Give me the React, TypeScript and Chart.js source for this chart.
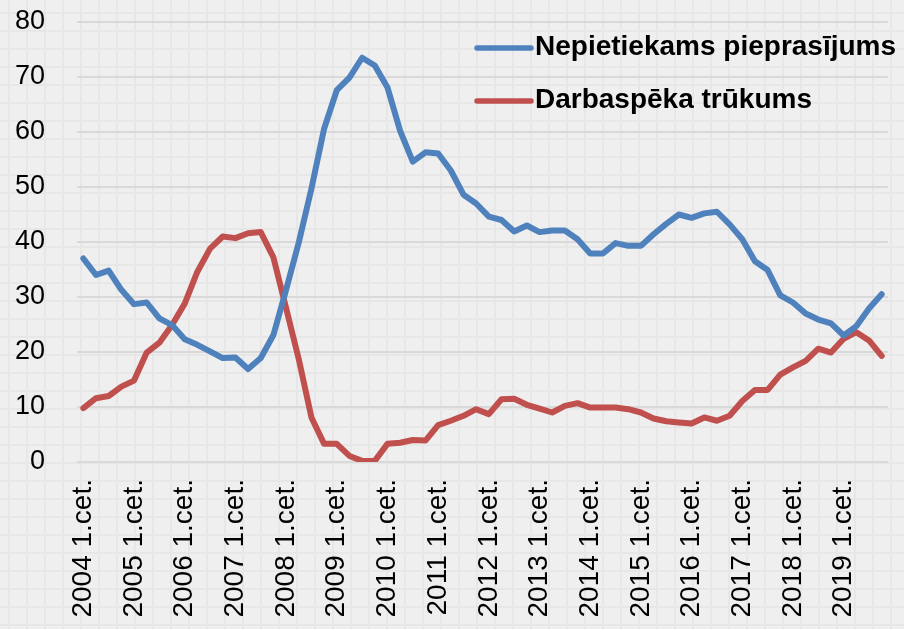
import { useEffect, useRef } from 'react';
import { Chart, registerables } from 'chart.js';

Chart.register(...registerables);

const YEARS = [2004, 2005, 2006, 2007, 2008, 2009, 2010, 2011, 2012, 2013, 2014, 2015, 2016, 2017, 2018, 2019];
const QUARTERS = ['1.cet.', '2.cet.', '3.cet.', '4.cet.'];
const CATEGORIES = YEARS.flatMap((y) => QUARTERS.map((q) => `${y} ${q}`));

const SERIES_NAMES = ['Nepietiekams pieprasījums', 'Darbaspēka trūkums'];

const INSUFFICIENT_DEMAND = [
  37.0, 34.0, 34.8, 31.3, 28.7, 29.0, 26.1, 24.9,
  22.3, 21.3, 20.1, 18.9, 19.0, 16.9, 18.9, 23.1,
  31.3, 39.9, 49.7, 60.6, 67.6, 69.9, 73.5, 72.1,
  68.1, 60.2, 54.6, 56.3, 56.1, 53.0, 48.6, 47.0,
  44.6, 44.0, 41.9, 43.0, 41.8, 42.1, 42.1, 40.5,
  37.9, 37.9, 39.8, 39.3, 39.3, 41.4, 43.3, 45.0,
  44.4, 45.2, 45.5, 43.2, 40.5, 36.5, 34.9, 30.3,
  29.0, 27.0, 25.9, 25.2, 23.0, 24.7, 27.9, 30.5,
];

const LABOUR_SHORTAGE = [
  9.8, 11.6, 12.0, 13.7, 14.8, 19.9, 21.7, 24.9,
  28.8, 34.6, 38.8, 41.0, 40.7, 41.6, 41.8, 37.2,
  28.0, 18.7, 8.1, 3.3, 3.3, 1.1, 0.2, 0.2,
  3.3, 3.5, 4.0, 3.9, 6.7, 7.5, 8.4, 9.6,
  8.7, 11.4, 11.5, 10.4, 9.7, 9.0, 10.2, 10.7,
  9.9, 9.9, 9.9, 9.6, 9.0, 7.9, 7.4, 7.2,
  7.0, 8.1, 7.5, 8.4, 11.1, 13.1, 13.1, 15.9,
  17.2, 18.4, 20.6, 19.9, 22.4, 23.6, 22.1, 19.3,
];

const Y_MIN = 0;
const Y_MAX = 80;
const Y_STEP = 10;

const COLORS = ['#4F81BD', '#C0504D'];
const FONT = '"Liberation Sans", Arial, sans-serif';

const insideLegend = {
  id: 'insideLegend',
  afterDatasetsDraw(chart: any, _args: any, opts: any) {
    const ctx = chart.ctx;
    ctx.save();
    chart.data.datasets.forEach((ds: any, i: number) => {
      const y = opts.y + i * opts.rowGap;
      ctx.strokeStyle = ds.borderColor;
      ctx.lineWidth = 5.5;
      ctx.lineCap = 'round';
      ctx.beginPath();
      ctx.moveTo(opts.x, y);
      ctx.lineTo(opts.x + opts.lineLen, y);
      ctx.stroke();
      ctx.fillStyle = '#000';
      ctx.font = `bold 28px ${FONT}`;
      ctx.textBaseline = 'middle';
      ctx.textAlign = 'left';
      ctx.fillText(ds.label, opts.x + opts.lineLen + 4, y - 1);
    });
    ctx.restore();
  },
};

export default function App() {
  const canvasRef = useRef<HTMLCanvasElement | null>(null);

  useEffect(() => {
    document.body.style.margin = '0';
    const canvas = canvasRef.current;
    if (!canvas) return;
    const chart = new Chart(canvas, {
      type: 'line',
      data: {
        labels: CATEGORIES,
        datasets: [
          {
            label: SERIES_NAMES[0],
            data: INSUFFICIENT_DEMAND,
            borderColor: COLORS[0],
            backgroundColor: COLORS[0],
            borderWidth: 6,
            pointRadius: 0,
            tension: 0,
            borderJoinStyle: 'round',
            borderCapStyle: 'round',
          },
          {
            label: SERIES_NAMES[1],
            data: LABOUR_SHORTAGE,
            borderColor: COLORS[1],
            backgroundColor: COLORS[1],
            borderWidth: 6,
            pointRadius: 0,
            tension: 0,
            borderJoinStyle: 'round',
            borderCapStyle: 'round',
          },
        ],
      },
      options: {
        animation: false,
        responsive: false,
        devicePixelRatio: 1,
        layout: { padding: { top: 22, right: 16, left: 0, bottom: 0 } },
        plugins: {
          legend: { display: false },
          tooltip: { enabled: false },
          insideLegend: { x: 477, y: 48, rowGap: 53, lineLen: 54 },
        } as any,
        scales: {
          x: {
            type: 'category',
            offset: true,
            grid: { display: false, drawTicks: false },
            border: { display: false },
            ticks: {
              autoSkip: false,
              minRotation: 90,
              maxRotation: 90,
              padding: 17,
              color: '#000',
              font: { family: FONT, size: 28 },
              callback: (_v: any, index: number) => (index % 4 === 0 ? CATEGORIES[index] : null),
            },
            afterFit: (scale: any) => {
              scale.height = 167;
              scale.paddingLeft = 0;
              scale.paddingRight = 0;
            },
          },
          y: {
            min: Y_MIN,
            max: Y_MAX,
            grid: { color: '#d9d9d9', lineWidth: 2, drawTicks: false },
            border: { display: false },
            ticks: {
              stepSize: Y_STEP,
              padding: 32,
              color: '#000',
              font: { family: FONT, size: 27 },
            },
            afterFit: (scale: any) => {
              scale.width = 77;
              scale.paddingTop = 0;
              scale.paddingBottom = 0;
            },
          },
        },
      },
      plugins: [insideLegend],
    });
    return () => chart.destroy();
  }, []);

  return (
    <div
      style={{
        width: 904,
        height: 629,
        position: 'relative',
        overflow: 'hidden',
        backgroundColor: '#efefef',
        backgroundImage:
          'linear-gradient(#e7e7e7 2px, transparent 2px), linear-gradient(90deg, #e7e7e7 2px, transparent 2px)',
        backgroundSize: '18px 18px',
        backgroundPosition: '8px 12px',
      }}
    >
      <canvas ref={canvasRef} width={904} height={629} style={{ display: 'block' }} />
    </div>
  );
}
